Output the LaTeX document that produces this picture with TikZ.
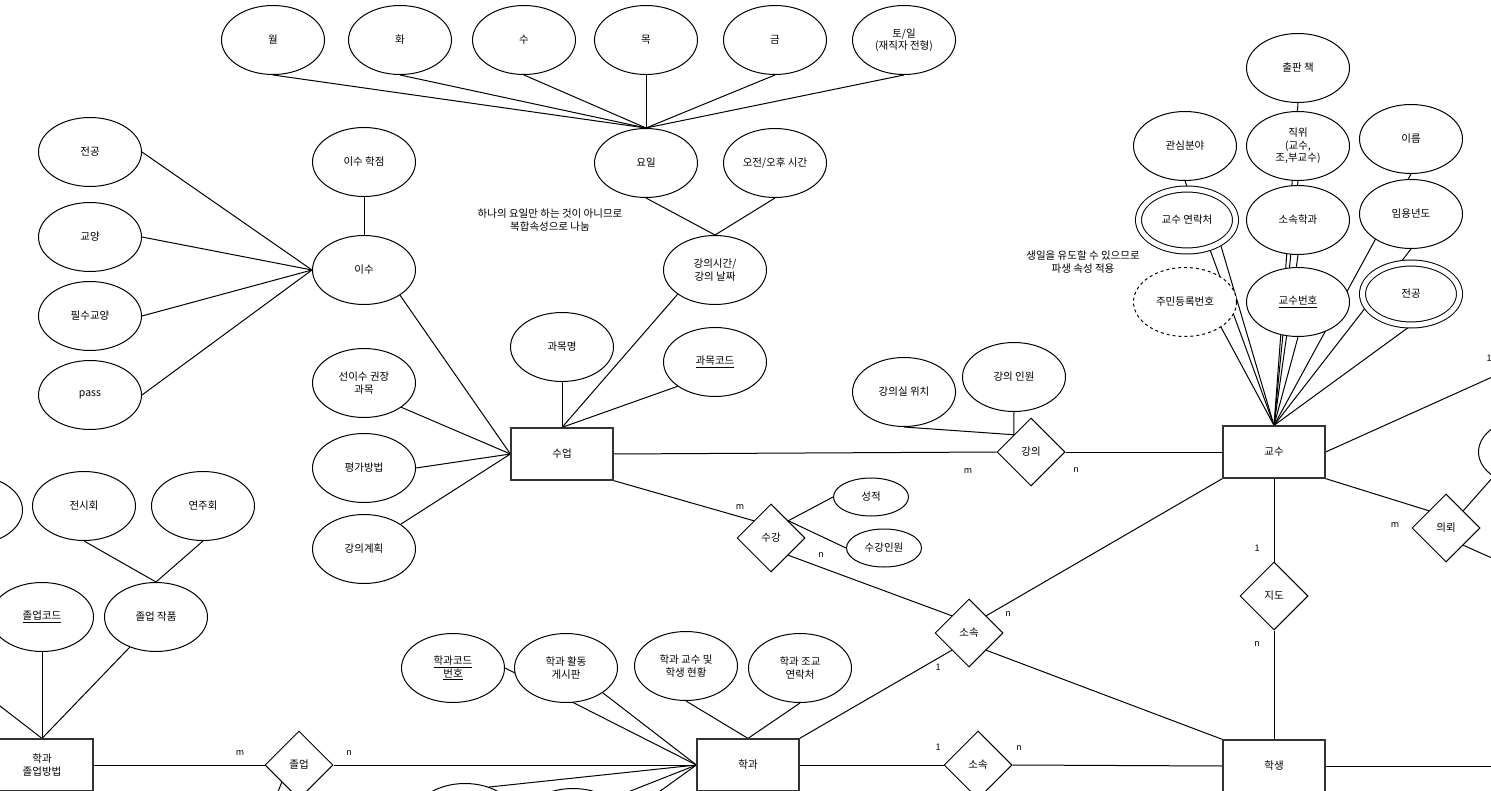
\documentclass[tikz,border=0pt]{standalone}
\usepackage{fontspec}
\setmainfont{Noto Sans CJK KR}
\usetikzlibrary{shapes.geometric}
\pgfdeclarelayer{bgfill}
\pgfdeclarelayer{edges}
\pgfsetlayers{bgfill,edges,main}
\begin{document}
\begin{tikzpicture}[x=1pt,y=-1pt,
  every node/.style={font=\fontsize{10.5}{12.5}\selectfont, align=center, inner sep=0pt},
  attr/.style={ellipse, draw, fill=white, line width=1pt, minimum width=103, minimum height=69},
  smallattr/.style={ellipse, draw, fill=white, line width=1pt, minimum width=75, minimum height=38},
  multi/.style={attr, double, double distance=5pt, minimum width=97, minimum height=62},
  derived/.style={attr, dash pattern=on 3pt off 3pt},
  entity/.style={rectangle, draw=black!80, fill=white, line width=1.2pt, minimum width=102, minimum height=52},
  rel/.style={diamond, draw, fill=white, line width=1pt, minimum width=68, minimum height=68},
  card/.style={font=\fontsize{9}{10}\selectfont},
  conn/.style={line width=1pt}
]
\useasboundingbox (0,0) rectangle (1491,791);
\begin{pgfonlayer}{bgfill}
\fill[white] (0,0) rectangle (1491,791);
\end{pgfonlayer}

% weekday attributes
\node[attr] (wol) at (273,40) {월};
\node[attr] (hwa) at (400,40) {화};
\node[attr] (su) at (524,40) {수};
\node[attr] (mok) at (646,40) {목};
\node[attr] (geum) at (775,40) {금};
\node[attr] (toil) at (904,40) {토/일\\(재직자 전형)};
\node[attr] (yoil) at (646,163) {요일};
\node[attr] (ojeon) at (775,163) {오전/오후 시간};
\node[attr] (gangsi) at (715,270) {강의시간/\\강의 날짜};
\node (note1) at (550,220) {하나의 요일만 하는 것이 아니므로\\복합속성으로 나눔};

% 이수
\node[attr] (isuhak) at (364,162) {이수 학점};
\node[attr] (isu) at (364,270) {이수};
\node[attr] (jeongongL) at (90,152) {전공};
\node[attr] (gyoyang) at (90,237) {교양};
\node[attr] (pilsu) at (90,316) {필수교양};
\node[attr] (pass) at (90,395) {pass};

% 수업
\node[attr] (seonisu) at (364,383) {선이수 권장\\과목};
\node[attr] (pyeongga) at (364,468) {평가방법};
\node[attr] (gplan) at (364,549) {강의계획};
\node[attr] (gmyeong) at (562,347) {과목명};
\node[attr] (gcode) at (715,362) {\underline{과목코드}};
\node[entity] (sueop) at (562,454) {수업};

% 강의
\node[rel] (gangui) at (1031,452) {강의};
\node[attr] (gangsil) at (904,392) {강의실 위치};
\node[attr] (gangin) at (1014,377) {강의 인원};

% 수강
\node[rel] (sugang) at (771,538) {수강};
\node[smallattr] (seongjeok) at (871,497) {성적};
\node[smallattr] (sugangin) at (884,548) {수강인원};

% 교수
\node[entity] (gyosu) at (1274,452) {교수};
\node[attr] (chulpan) at (1298,68) {출판 책};
\node[attr] (jikwi) at (1298,146) {직위\\(교수,\\조,부교수)};
\node[attr] (gwansim) at (1185,146) {관심분야};
\node[attr] (ireum) at (1411,139) {이름};
\node[multi] (yeonrak) at (1187,220) {교수 연락처};
\node[attr] (sosokhak) at (1298,220) {소속학과};
\node[attr] (imyong) at (1411,214) {임용년도};
\node[derived] (jumin) at (1185,302) {주민등록번호};
\node[attr] (gyosubeon) at (1298,302) {\underline{교수번호}};
\node[multi] (jeongongR) at (1411,294) {전공};
\node (note2) at (1083,262) {생일을 유도할 수 있으므로\\파생 속성 적용};

% relations right
\node[rel] (sosokM) at (969,633) {소속};
\node[rel] (jido) at (1274,596) {지도};
\node[rel] (uiroe) at (1446,528) {의뢰};
\node[attr] (rightEll) at (1530,452) {};

% 학생 / 학과
\node[entity] (haksaeng) at (1274,766) {학생};
\node[rel] (sosokB) at (978,765) {소속};
\node[entity] (hakgwa) at (748,765) {학과};
\node[attr] (hcode) at (453,668) {\underline{학과코드}\\\underline{번호}};
\node[attr] (hboard) at (566,668) {학과 활동\\게시판};
\node[attr] (hstatus) at (686,666) {학과 교수 및\\학생 현황};
\node[attr] (hassist) at (800,668) {학과 조교\\연락처};
\node[attr] (bottomA) at (465,818) {};
\node[attr] (bottomB) at (573,823) {};

% 졸업
\node[rel] (jolup) at (299,765) {졸업};
\node[entity] (hjolup) at (42,765) {학과\\졸업방법};
\node[attr] (jcode) at (42,617) {\underline{졸업코드}};
\node[attr] (jwork) at (156,617) {졸업 작품};
\node[attr] (jeonsi) at (84,506) {전시회};
\node[attr] (yeonju) at (203,506) {연주회};
\node[attr] (leftEll) at (-29,510) {};

% cardinalities
\node[card] (c1) at (968,471) {m};
\node[card] (c2) at (1076,470) {n};
\node[card] (c3) at (740,507) {m};
\node[card] (c4) at (821,555) {n};
\node[card] (c5) at (1008,614) {n};
\node[card] (c6) at (938,667) {1};
\node[card] (c7) at (938,747) {1};
\node[card] (c8) at (1019,748) {n};
\node[card] (c9) at (1257,548) {1};
\node[card] (c10) at (1257,644) {n};
\node[card] (c11) at (1395,525) {m};
\node[card] (c12) at (1489,358) {1};
\node[card] (c13) at (240,753) {m};
\node[card] (c14) at (349,753) {n};

% free ends
\coordinate (offA) at (1530,360);
\coordinate (offB) at (1530,575);
\coordinate (offC) at (1530,766);
\coordinate (offD) at (1274,830);
\coordinate (offE) at (748,830);
\coordinate (offF) at (600,803);
\coordinate (offG) at (620,820);
\coordinate (offH) at (42,830);
\coordinate (offI) at (-70,652);
\coordinate (offJ) at (262,832);

\begin{pgfonlayer}{edges}
\foreach \d in {wol,hwa,su,mok,geum,toil} \draw[conn] (\d.south) -- (yoil.north);
\draw[conn] (yoil.south) -- (gangsi.north);
\draw[conn] (ojeon.south) -- (gangsi.north);
\draw[conn] (gangsi.213) -- (sueop.north);
\draw[conn] (gmyeong.south) -- (sueop.north);
\draw[conn] (gcode.213) -- (sueop.north);
\draw[conn] (isuhak.south) -- (isu.north);
\foreach \a in {jeongongL,gyoyang,pilsu,pass} \draw[conn] (\a.east) -- (isu.west);
\draw[conn] (isu.-35) -- (sueop.west);
\draw[conn] (seonisu.-33) -- (sueop.west);
\draw[conn] (pyeongga.east) -- (sueop.west);
\draw[conn] (gplan.34) -- (sueop.west);
\draw[conn] (sueop.east) -- (gangui.west);
\draw[conn] (gangui.east) -- (gyosu.west);
\draw[conn] (gangsil.south) -- (gangui.north west);
\draw[conn] (gangin.south) -- (gangui.north west);
\draw[conn] (sueop.south east) -- (sugang.north west);
\draw[conn] (sugang.north east) -- (seongjeok.west);
\draw[conn] (sugang.north east) -- (sugangin.west);
\draw[conn] (sugang.south east) -- (sosokM.north west);
\draw[conn] (sosokM.north east) -- (gyosu.south west);
\draw[conn] (sosokM.south west) -- (hakgwa.north east);
\draw[conn] (sosokM.south east) -- (haksaeng.north west);
% professor attributes
\draw[conn] (gyosu.north) -- (gwansim.south);
\draw[conn] (gyosu.north) -- (yeonrak.-35);
\draw[conn] (gyosu.north) -- (jumin.-35);
\draw[conn] (gyosu.north) -- (chulpan.south);
\draw[conn] (gyosu.north) -- (jikwi.south);
\draw[conn] (gyosu.north) -- (sosokhak.south);
\draw[conn] (gyosu.north) -- (gyosubeon.south);
\draw[conn] (gyosu.north) -- (ireum.south);
\draw[conn] (gyosu.north) -- (imyong.south);
\draw[conn] (gyosu.north) -- (jeongongR.south);
\draw[conn] (gyosu.east) -- (offA);
\draw[conn] (gyosu.south) -- (jido.north);
\draw[conn] (jido.south) -- (haksaeng.north);
\draw[conn] (gyosu.south east) -- (uiroe.north west);
\draw[conn] (uiroe.north east) -- (rightEll.214);
\draw[conn] (uiroe.south east) -- (offB);
% student / department
\draw[conn] (haksaeng.east) -- (offC);
\draw[conn] (haksaeng.south) -- (offD);
\draw[conn] (hakgwa.east) -- (sosokB.west);
\draw[conn] (sosokB.east) -- (haksaeng.west);
\draw[conn] (hcode.east) -- (hakgwa.west);
\draw[conn] (hboard.-34) -- (hakgwa.west);
\draw[conn] (hstatus.south) -- (hakgwa.north);
\draw[conn] (hassist.south) -- (hakgwa.north);
\draw[conn] (hakgwa.west) -- (bottomA.52);
\draw[conn] (hakgwa.west) -- (offF);
\draw[conn] (hakgwa.west) -- (offG);
\draw[conn] (hakgwa.south) -- (offE);
\draw[conn] (hakgwa.west) -- (jolup.east);
\draw[conn] (jolup.west) -- (hjolup.east);
\draw[conn] (jolup.south west) -- (offJ);
\draw[conn] (jcode.south) -- (hjolup.north);
\draw[conn] (jwork.229) -- (hjolup.north);
\draw[conn] (offI) -- (hjolup.north);
\draw[conn] (hjolup.south) -- (offH);
\draw[conn] (jeonsi.south) -- (jwork.north);
\draw[conn] (yeonju.south) -- (jwork.north);
\end{pgfonlayer}
\end{tikzpicture}
\end{document}
